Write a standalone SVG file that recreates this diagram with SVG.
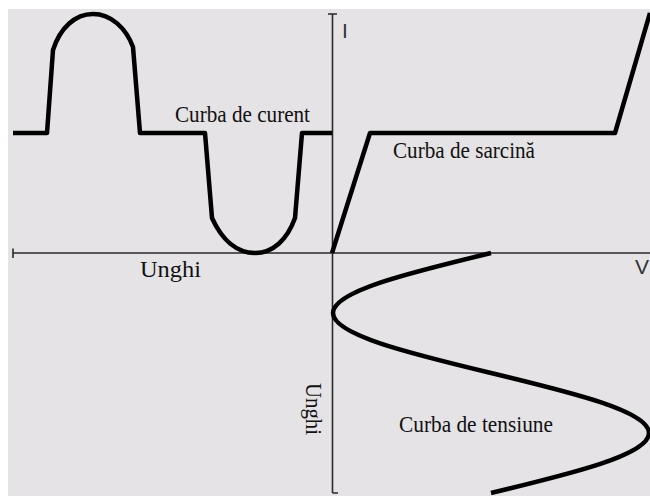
<svg xmlns="http://www.w3.org/2000/svg" width="650" height="496" viewBox="0 0 650 496">
<style>
.axis{fill:none;stroke:#2a2a2a;stroke-width:1.6}
.curve{fill:none;stroke:#000;stroke-width:4.5;stroke-linejoin:round;stroke-linecap:butt}
.lbl{font-family:"Liberation Serif","Times New Roman",serif;font-size:22.5px;fill:#111}
.ax{font-family:"Liberation Sans",Arial,sans-serif;font-size:21px;fill:#333}
</style>
<rect x="0" y="0" width="650" height="496" fill="#ffffff"/>
<rect x="8" y="9" width="642" height="487" fill="#e5e3e5"/>
<g id="axes">
<path class="axis" d="M13,253 H650 M13,248.5 V258 M332.5,14 V493 M328,14 H337 M332.5,493 H338"/>
<text class="ax" x="342" y="38">I</text>
<text class="ax" x="635" y="274">V</text>
</g>
<g id="connectors">
<path id="curent" class="curve" d="M13,133 H47 L53,50 C60,28 75,14 93,14 C111,14 126,28 133,47 L140,133 H205 L212,218 C222,240 237,253 255,253 C273,253 287,240 295,218 L302,133 H332"/>
<path id="sarcina" class="curve" d="M332,253 L370,133 H615 L650,13"/>
<path id="tensiune" class="curve" d="M491,253 C408,273 333,291.4 333,313 C333,334.6 408,353 491,373 C574,393 649,411.4 649,433 C649,454.6 574,473 491,493"/>
</g>
<g id="label-curent"><text class="lbl" x="175" y="122" textLength="135" lengthAdjust="spacingAndGlyphs">Curba de curent</text></g>
<g id="label-sarcina"><text class="lbl" x="393" y="158" textLength="142" lengthAdjust="spacingAndGlyphs">Curba de sarcină</text></g>
<g id="label-unghi-h"><text class="lbl" x="140" y="277" textLength="61" lengthAdjust="spacingAndGlyphs">Unghi</text></g>
<g id="label-tensiune"><text class="lbl" x="399" y="432" textLength="154" lengthAdjust="spacingAndGlyphs">Curba de tensiune</text></g>
<g id="label-unghi-v"><text class="lbl" transform="translate(306,383) rotate(90)" x="0" y="0" textLength="52" lengthAdjust="spacingAndGlyphs">Unghi</text></g>
</svg>
